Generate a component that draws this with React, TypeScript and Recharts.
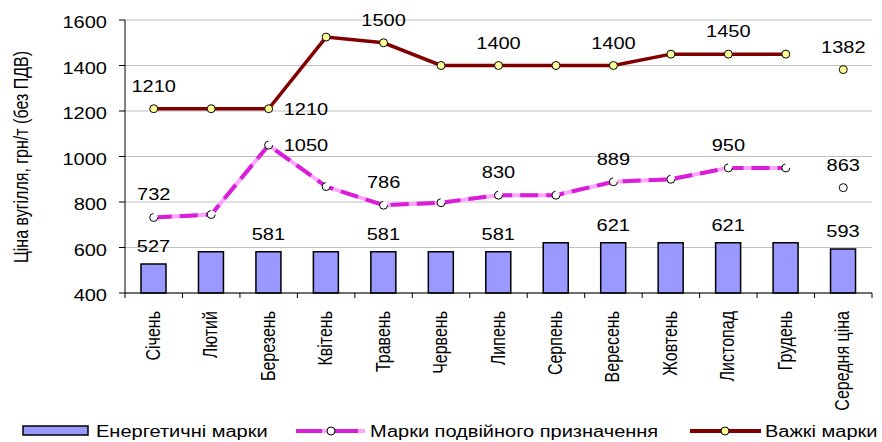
import React from 'react';
import { ComposedChart, Bar, Line, XAxis, YAxis, CartesianGrid, LabelList } from 'recharts';

const months = ['Січень', 'Лютий', 'Березень', 'Квітень', 'Травень', 'Червень', 'Липень', 'Серпень', 'Вересень', 'Жовтень', 'Листопад', 'Грудень'];
const avgName = 'Середня ціна';

const energyPrices = [527, 581, 581, 581, 581, 581, 581, 621, 621, 621, 621, 621];
const dualPrices = [732, 745, 1050, 868, 786, 797, 830, 830, 889, 900, 950, 950];
const heavyPrices = [1210, 1210, 1210, 1525, 1500, 1400, 1400, 1400, 1400, 1450, 1450, 1450];
const energyAvg = 593;
const dualAvg = 863;
const heavyAvg = 1382;

// categories that carry a value label
const labelled = [0, 2, 4, 6, 8, 10, 12];
const yTicks = [400, 600, 800, 1000, 1200, 1400, 1600];

const data = [...months, avgName].map((name, i) => ({
  name,
  energy: i < 12 ? energyPrices[i] : energyAvg,
  dual: i < 12 ? dualPrices[i] : null,
  dualAvg: i === 12 ? dualAvg : null,
  heavy: i < 12 ? heavyPrices[i] : null,
  heavyAvg: i === 12 ? heavyAvg : null,
}));

const FONT = '"Liberation Sans", Arial, sans-serif';
const BAND = 747 / 13;

const Txt = ({ x, y, anchor = 'middle', children }: any) => (
  <text
    transform={`translate(${x},${y}) scale(1.25,1)`}
    textAnchor={anchor}
    fontSize={16}
    fontFamily={FONT}
    fill="#000"
  >
    {children}
  </text>
);

const pointLabel = (props: any) => {
  const { index, value } = props;
  if (value == null || !labelled.includes(index)) return null;
  const vb = props.viewBox || {};
  const x = props.x ?? vb.x;
  const y = props.y ?? vb.y;
  if (index === 2) return <Txt x={x + 15} y={y + 6} anchor="start">{value}</Txt>;
  return <Txt x={x} y={y - 17}>{value}</Txt>;
};

const barLabel = (props: any) => {
  const { index, value } = props;
  if (value == null || !labelled.includes(index)) return null;
  const vb = props.viewBox || {};
  const x = props.x ?? vb.x;
  const y = props.y ?? vb.y;
  const w = props.width ?? vb.width;
  return <Txt x={x + w / 2} y={y - 12}>{value}</Txt>;
};

const YTick = (p: any) => (
  <Txt x={p.x - 10} y={p.y + 8} anchor="end">{p.payload.value}</Txt>
);

const XTick = (p: any) => {
  const { x, y, payload, index } = p;
  return (
    <g>
      <line x1={x - BAND / 2} x2={x - BAND / 2} y1={y} y2={y + 5} stroke="#000" />
      {index === 12 && <line x1={x + BAND / 2} x2={x + BAND / 2} y1={y} y2={y + 5} stroke="#000" />}
      <text
        transform={`translate(${x + 6},${y + 18}) rotate(-90) scale(1,1.25)`}
        textAnchor="end"
        fontSize={16}
        fontFamily={FONT}
        fill="#000"
      >
        {payload.value}
      </text>
    </g>
  );
};

const heavyDot = { r: 4, fill: '#ffff99', stroke: '#000', strokeWidth: 1 };
const dualDot = { r: 4, fill: '#fff', stroke: '#000', strokeWidth: 1 };

export default function App() {
  return (
    <div style={{ position: 'absolute', left: 0, top: 0, width: 882, height: 442, background: '#fff' }}>
      <ComposedChart width={882} height={442} data={data} margin={{ top: 20, right: 10, left: 0, bottom: 0 }}>
        <CartesianGrid vertical={false} stroke="#c0c0c0" />
        <XAxis
          dataKey="name"
          height={149}
          interval={0}
          tickLine={false}
          tickSize={0}
          tickMargin={0}
          axisLine={{ stroke: '#000' }}
          tick={XTick}
        />
        <YAxis
          domain={[400, 1600]}
          ticks={yTicks}
          width={125}
          tickSize={6}
          tickMargin={2}
          tickLine={{ stroke: '#000' }}
          axisLine={{ stroke: '#000' }}
          tick={YTick}
          interval={0}
        />
        <YAxis
          yAxisId="border"
          orientation="right"
          domain={[400, 1600]}
          width={0}
          tick={false}
          tickLine={false}
          axisLine={{ stroke: '#b0b0b0' }}
        />
        <Bar dataKey="energy" barSize={25} fill="#9999ff" stroke="#000" strokeWidth={1.5} isAnimationActive={false}>
          <LabelList dataKey="energy" content={barLabel} />
        </Bar>
        <Line type="linear" dataKey="dual" stroke="#ffa6ff" strokeWidth={4} dot={false} activeDot={false} isAnimationActive={false} />
        <Line
          type="linear"
          dataKey="dual"
          stroke="#d81ed8"
          strokeWidth={4}
          strokeDasharray="18 8"
          dot={dualDot}
          activeDot={false}
          isAnimationActive={false}
        >
          <LabelList dataKey="dual" content={pointLabel} />
        </Line>
        <Line type="linear" dataKey="dualAvg" stroke="none" dot={dualDot} activeDot={false} isAnimationActive={false}>
          <LabelList dataKey="dualAvg" content={pointLabel} />
        </Line>
        <Line type="linear" dataKey="heavy" stroke="#800000" strokeWidth={3.5} dot={heavyDot} activeDot={false} isAnimationActive={false}>
          <LabelList dataKey="heavy" content={pointLabel} />
        </Line>
        <Line type="linear" dataKey="heavyAvg" stroke="none" dot={heavyDot} activeDot={false} isAnimationActive={false}>
          <LabelList dataKey="heavyAvg" content={pointLabel} />
        </Line>
      </ComposedChart>

      {/* axis title and legend */}
      <svg width={882} height={442} style={{ position: 'absolute', left: 0, top: 0, pointerEvents: 'none' }}>
        <text
          transform="translate(28,157) rotate(-90) scale(1,1.25)"
          textAnchor="middle"
          fontSize={16}
          fontFamily={FONT}
          fill="#000"
        >
          Ціна вугілля, грн/т (без ПДВ)
        </text>

        <rect x={23} y={426} width={65} height={9} fill="#9999ff" stroke="#000" strokeWidth={1.5} />
        <Txt x={96} y={437} anchor="start">Енергетичні марки</Txt>

        <line x1={296} x2={365} y1={431} y2={431} stroke="#ffa6ff" strokeWidth={4} />
        <line x1={296} x2={365} y1={431} y2={431} stroke="#d81ed8" strokeWidth={4} strokeDasharray="26 10" />
        <circle cx={331} cy={431} r={4} fill="#fff" stroke="#000" />
        <Txt x={370} y={437} anchor="start">Марки подвійного призначення</Txt>

        <line x1={690} x2={761} y1={431} y2={431} stroke="#800000" strokeWidth={4} />
        <circle cx={725} cy={431} r={4} fill="#ffff99" stroke="#000" />
        <Txt x={765} y={437} anchor="start">Важкі марки</Txt>
      </svg>
    </div>
  );
}
